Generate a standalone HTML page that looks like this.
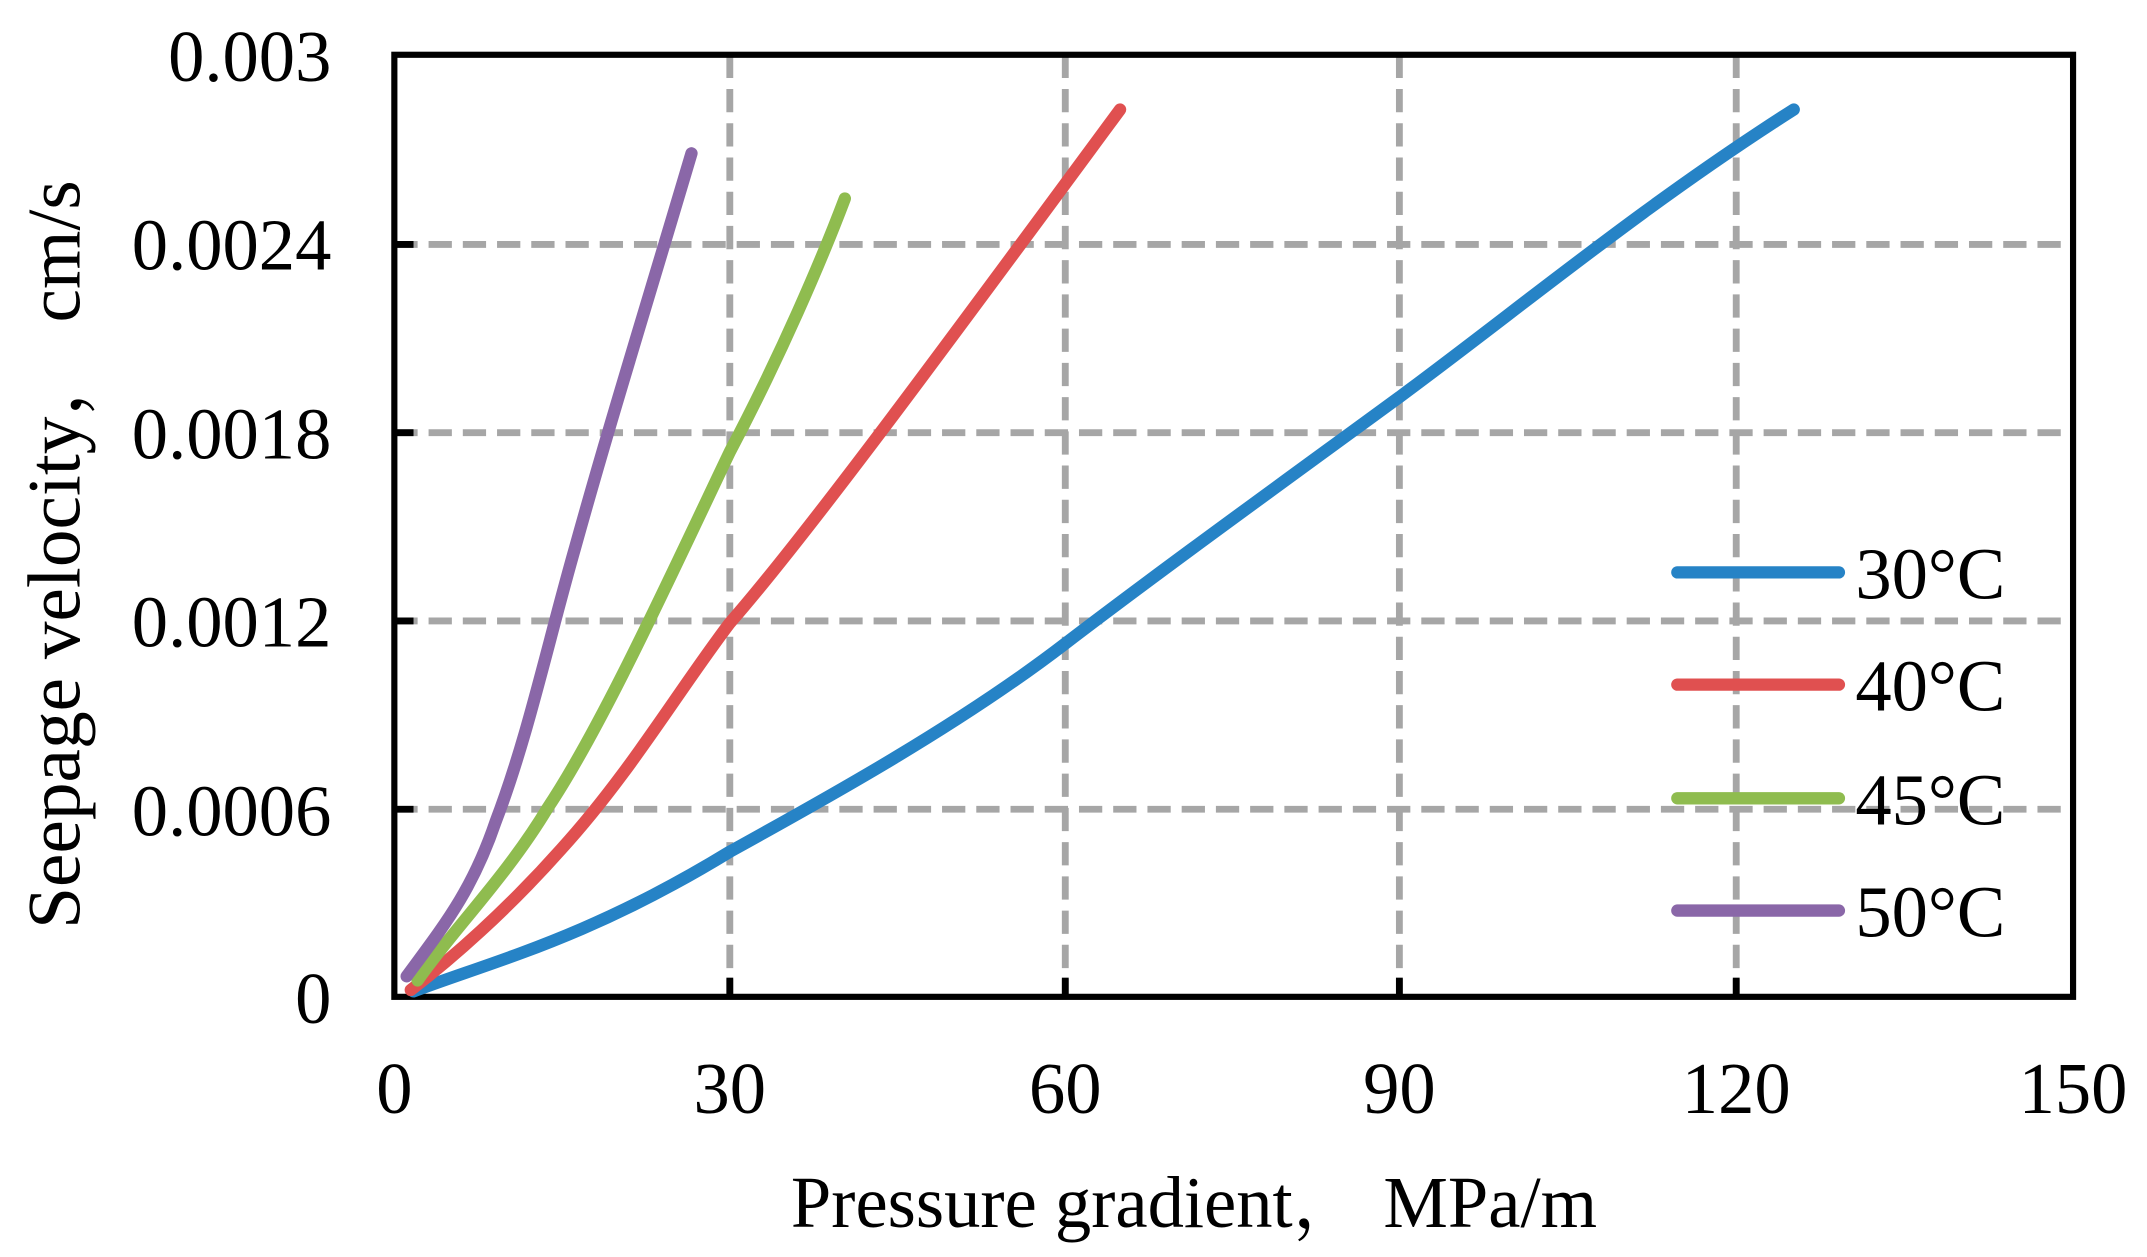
<!DOCTYPE html>
<html><head><meta charset="utf-8"><style>html,body{margin:0;padding:0;background:#fff}svg{display:block}</style></head>
<body>
<svg width="2147" height="1257" viewBox="0 0 1568 918" preserveAspectRatio="none" xmlns="http://www.w3.org/2000/svg" font-family="Liberation Serif, serif">
<rect width="1568" height="918" fill="#fff"/>
<g stroke="#a6a6a6" stroke-width="5" stroke-dasharray="17,8" fill="none">
<line x1="288" y1="591" x2="1514" y2="591"/>
<line x1="288" y1="453.5" x2="1514" y2="453.5"/>
<line x1="288" y1="316" x2="1514" y2="316"/>
<line x1="288" y1="178.5" x2="1514" y2="178.5"/>
<line x1="533" y1="40" x2="533" y2="728"/>
<line x1="778" y1="40" x2="778" y2="728"/>
<line x1="1022" y1="40" x2="1022" y2="728"/>
<line x1="1268" y1="40" x2="1268" y2="728"/>
</g>
<g stroke="#000" stroke-width="5">
<line x1="288" y1="591" x2="302" y2="591"/><line x1="288" y1="453.5" x2="302" y2="453.5"/>
<line x1="288" y1="316" x2="302" y2="316"/><line x1="288" y1="178.5" x2="302" y2="178.5"/>
<line x1="533" y1="728" x2="533" y2="714"/><line x1="778" y1="728" x2="778" y2="714"/>
<line x1="1022" y1="728" x2="1022" y2="714"/><line x1="1268" y1="728" x2="1268" y2="714"/>
</g>
<rect x="288" y="40" width="1226" height="688" fill="none" stroke="#000" stroke-width="4.5"/>
<g fill="none" stroke-width="9" stroke-linecap="round" stroke-linejoin="round">
<path stroke="#2683c6" d="M302,724 C360,702 430,685 533,622 C600,585 700,530 778,470 C850,415 940,350 1022,290 C1110,225 1200,150 1310,80"/>
<path stroke="#e05050" d="M300,723 C330,700 370,665 410,620 C460,565 495,505 533,455 C590,390 700,240 818,80"/>
<path stroke="#8fbc4f" d="M305,716 C330,680 370,640 400,590 C440,530 490,420 533,330 C570,260 600,190 617,145"/>
<path stroke="#8a67a8" d="M297,713 C325,675 345,650 362,600 C385,540 400,470 420,400 C445,310 470,230 505,112"/>
</g>
<g stroke-width="9" stroke-linecap="round">
<line x1="1225" y1="418" x2="1343" y2="418" stroke="#2683c6"/>
<line x1="1225" y1="500" x2="1343" y2="500" stroke="#e05050"/>
<line x1="1225" y1="583" x2="1343" y2="583" stroke="#8fbc4f"/>
<line x1="1225" y1="665" x2="1343" y2="665" stroke="#8a67a8"/>
</g>
<g font-size="53" fill="#000">
<text x="1355" y="437">30°C</text>
<text x="1355" y="519">40°C</text>
<text x="1355" y="602">45°C</text>
<text x="1355" y="684">50°C</text>
</g>
<g font-size="53" fill="#000" text-anchor="end">
<text x="242" y="59">0.003</text>
<text x="242" y="197">0.0024</text>
<text x="242" y="335">0.0018</text>
<text x="242" y="472">0.0012</text>
<text x="242" y="610">0.0006</text>
<text x="242" y="747">0</text>
</g>
<g font-size="53" fill="#000" text-anchor="middle">
<text x="288" y="813">0</text>
<text x="533" y="813">30</text>
<text x="778" y="813">60</text>
<text x="1022" y="813">90</text>
<text x="1268" y="813">120</text>
<text x="1514" y="813">150</text>
<text x="872" y="896" font-family="Liberation Serif, Noto Serif CJK SC, serif">Pressure gradient， MPa/m</text>
<text transform="translate(58,405) rotate(-90)" font-size="55" font-family="Liberation Serif, Noto Serif CJK SC, serif">Seepage velocity， cm/s</text>
</g>
</svg>
</body></html>
